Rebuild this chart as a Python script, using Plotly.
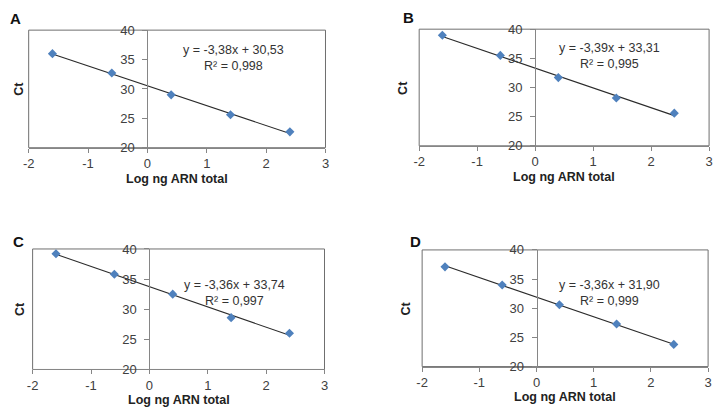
import plotly.graph_objects as go

# data
panels = ['A', 'B', 'C', 'D']
log_ng = [-1.6, -0.6, 0.4, 1.4, 2.4]
ct_a = [36.0, 32.7, 29.0, 25.6, 22.7]
ct_b = [38.95, 35.5, 31.7, 28.2, 25.6]
ct_c = [39.2, 35.8, 32.5, 28.6, 26.0]
ct_d = [37.1, 34.0, 30.6, 27.3, 23.8]
slopes = [-3.38, -3.39, -3.36, -3.36]
intercepts = [30.53, 33.31, 33.74, 31.90]
r2 = ['0,998', '0,995', '0,997', '0,999']
x_ticks = [-2, -1, 0, 1, 2, 3]
x_tick_labels = ['-2', '-1', '0', '1', '2', '3']
y_ticks = [20, 25, 30, 35, 40]

W, H = 719, 417
FONT = 'Liberation Sans, Arial, sans-serif'
TICK_GREY = '#868686'

# plot-area boxes in pixels: left, right, top, bottom
boxes = [(23, 324, 24, 146), (419, 713, 23, 144),
         (27, 323, 251, 376), (422, 712, 252, 373)]
letter_pos = [(10, 12), (408, 11), (13, 243), (415, 243)]
eq_pos = [(231, 42), (612, 40), (232, 286), (612, 286)]
ct_x = [13, 403, 14, 406]

series = [ct_a, ct_b, ct_c, ct_d]


def px(x):
    return x / W


def py(y):
    return 1 - y / H


fig = go.Figure()
layout = dict(width=W, height=H, margin=dict(l=0, r=0, t=0, b=0),
              paper_bgcolor='white', plot_bgcolor='white',
              showlegend=False, font=dict(family=FONT, color='#404040'))
annotations = []
shapes = []

for i, name in enumerate(panels):
    n = '' if i == 0 else str(i + 1)
    xa, ya = 'x' + n, 'y' + n
    l, r, t, b = boxes[i]
    xdom = [px(l), px(r)]
    ydom = [py(b), py(t)]

    # trendline from the fitted equation
    xs = [log_ng[0], log_ng[-1]]
    ys = [slopes[i] * v + intercepts[i] for v in xs]
    fig.add_trace(go.Scatter(x=xs, y=ys, mode='lines',
                             line=dict(color='#2b2b2b', width=1.1),
                             xaxis=xa, yaxis=ya, hoverinfo='skip'))
    fig.add_trace(go.Scatter(x=log_ng, y=series[i], mode='markers',
                             marker=dict(symbol='diamond', size=7,
                                         color='#4f81bd'),
                             xaxis=xa, yaxis=ya))

    layout['xaxis' + n] = dict(domain=xdom, anchor=ya, range=[-2, 3],
                               tickvals=x_ticks, ticktext=x_tick_labels,
                               showgrid=False, zeroline=False,
                               showline=True, linecolor=TICK_GREY,
                               linewidth=1, ticks='outside', ticklen=4,
                               tickcolor=TICK_GREY,
                               ticklabeloverflow='allow',
                               tickfont=dict(size=13, color='#404040'),
                               fixedrange=True)
    layout['yaxis' + n] = dict(domain=ydom, anchor='free',
                               position=xdom[0] + 0.4 * (xdom[1] - xdom[0]),
                               range=[20, 40], tickvals=y_ticks,
                               showgrid=False, zeroline=False,
                               showline=True, linecolor=TICK_GREY,
                               linewidth=1, ticks='outside', ticklen=5,
                               tickcolor=TICK_GREY, ticklabelstandoff=5,
                               tickfont=dict(size=13, color='#404040'),
                               fixedrange=True)

    # plot-area border
    shapes.append(dict(type='rect', xref=xa + ' domain', yref=ya + ' domain',
                       x0=0, x1=1, y0=0, y1=1,
                       line=dict(color='#6f6f6f', width=1), layer='below'))

    # panel letter
    lx, ly = letter_pos[i]
    annotations.append(dict(text='<b>%s</b>' % name, xref='paper',
                            yref='paper', x=px(lx), y=py(ly),
                            xanchor='center', yanchor='middle',
                            showarrow=False,
                            font=dict(size=15, color='#111111')))
    # equation
    ex, ey = eq_pos[i]
    annotations.append(dict(
        text='y = %sx + %s<br>R² = %s' % (
            ('%.2f' % slopes[i]).replace('.', ','),
            ('%.2f' % intercepts[i]).replace('.', ','), r2[i]),
        xref='paper', yref='paper', x=px(ex), y=py(ey - 7),
        xanchor='center', yanchor='top', showarrow=False,
        font=dict(size=12.5, color='#333333')))
    # axis titles
    annotations.append(dict(text='<b>Log ng ARN total</b>', xref='paper',
                            yref='paper', x=(xdom[0] + xdom[1]) / 2,
                            y=py(b + 32), xanchor='center',
                            yanchor='middle', showarrow=False,
                            font=dict(size=12.5, color='#222222')))
    annotations.append(dict(text='<b>Ct</b>', xref='paper', yref='paper',
                            x=px(ct_x[i]), y=(ydom[0] + ydom[1]) / 2,
                            xanchor='center', yanchor='middle',
                            textangle=-90, showarrow=False,
                            font=dict(size=12.5, color='#222222')))

layout['annotations'] = annotations
layout['shapes'] = shapes
fig.update_layout(**layout)

fig.write_html("out.html", config={'displayModeBar': False},
               post_script="document.body.style.margin='0';")
